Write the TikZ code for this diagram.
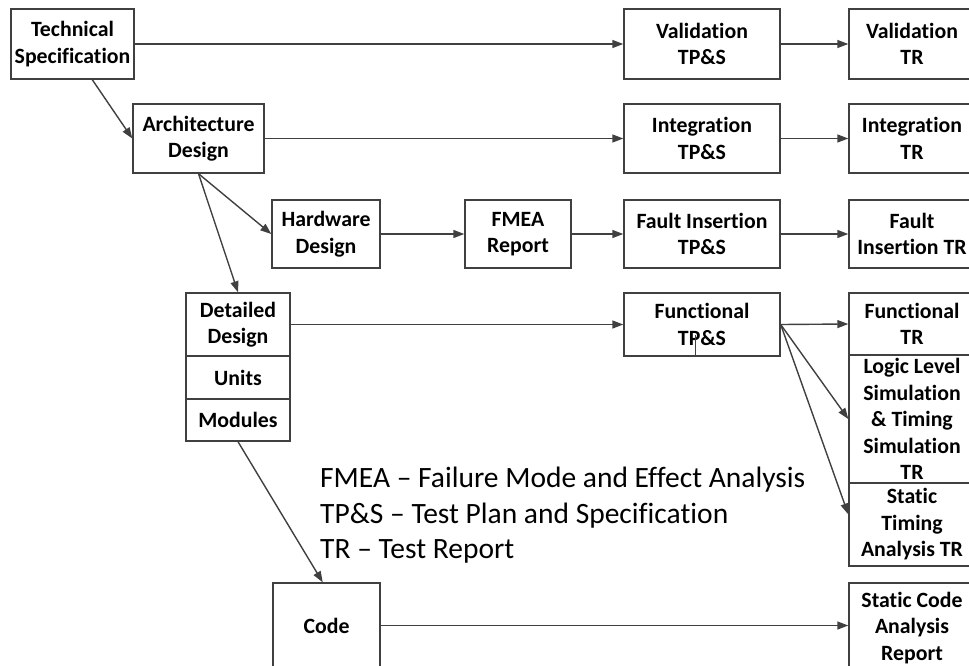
\documentclass[tikz,border=0pt]{standalone}
\usepackage{fontspec}
\setmainfont{Carlito}[Ligatures=NoCommon]
\usetikzlibrary{arrows.meta}
\definecolor{ln}{HTML}{404040}
\tikzset{
  box/.style={draw=ln, line width=1.4pt, rectangle, inner sep=0pt, align=center,
    font=\bfseries\fontsize{21.8}{26.5}\selectfont, text=black},
  arr/.style={draw=ln, line width=1.4pt, -{Triangle[length=11pt,width=8pt]}},
  legend/.style={anchor=base west, inner sep=0pt, font=\fontsize{29.5}{35.5}\selectfont, text=black}
}
\begin{document}
\begin{tikzpicture}[x=1pt,y=-1pt]
\useasboundingbox (0,0) rectangle (969,665);
\clip (0,0) rectangle (969,665);
% boxes
\node[box, minimum width=123pt, minimum height=70pt] (ts) at (72.5,44) {Technical\\Specification};
\node[box, minimum width=131pt, minimum height=69pt] (ad) at (198.5,138.5) {Architecture\\Design};
\node[box, minimum width=156pt, minimum height=70pt] (vtps) at (702,44) {Validation\\TP\&S};
\node[box, minimum width=126pt, minimum height=70pt] (vtr) at (912,44) {Validation\\TR};
\node[box, minimum width=156pt, minimum height=69pt] (itps) at (702,138.5) {Integration\\TP\&S};
\node[box, minimum width=126pt, minimum height=69pt] (itr) at (912,138.5) {Integration\\TR};
\node[box, minimum width=108pt, minimum height=68pt] (hd) at (326,234) {Hardware\\Design};
\node[box, minimum width=106pt, minimum height=68pt] (fmea) at (518,234) {FMEA\\Report};
\node[box, minimum width=156pt, minimum height=68pt] (ftps) at (702,234) {Fault Insertion\\TP\&S};
\node[box, minimum width=126pt, minimum height=68pt] (ftr) at (912,234) {Fault\\Insertion TR};
\node[box, minimum width=104pt, minimum height=63pt] (dd) at (238,324.5) {Detailed\\Design};
\node[box, minimum width=104pt, minimum height=43pt] (units) at (238,377.5) {Units};
\node[box, minimum width=104pt, minimum height=42pt] (modules) at (238,420) {Modules};
\node[box, minimum width=156pt, minimum height=63pt] (fntps) at (702,324.5) {Functional\\TP\&S};
\node[box, minimum width=126pt, minimum height=62pt] (fntr) at (912,324) {Functional\\TR};
\node[box, minimum width=126pt, minimum height=128pt] (logic) at (912,419) {Logic Level\\Simulation\\\& Timing\\Simulation\\TR};
\node[box, minimum width=126pt, minimum height=83pt] (sta) at (912,524.5) {Static\\Timing\\Analysis TR};
\node[box, minimum width=107pt, minimum height=85pt] (code) at (326.5,625.5) {Code};
\node[box, minimum width=126pt, minimum height=90pt] (scar) at (912,628) {Static Code\\Analysis\\Report};
% stray mark inside Functional TP&S
\draw[ln, line width=1pt] (695,335) -- (695,356);
% legend
\node[legend] (l1) at (320,487.5) {FMEA – Failure Mode and Effect Analysis};
\node[legend] (l2) at (320,523) {TP\&S – Test Plan and Specification};
\node[legend] (l3) at (320,558.5) {TR – Test Report};
% connectors
\draw[arr] (ts) -- (vtps);
\draw[arr] (vtps) -- (vtr);
\draw[arr] (ad) -- (itps);
\draw[arr] (itps) -- (itr);
\draw[arr] (ts.-61) -- (ad.west);
\draw[arr] (ad.south) -- (hd.west);
\draw[arr] (ad.south) -- (dd.north);
\draw[arr] (hd) -- (fmea);
\draw[arr] (fmea) -- (ftps);
\draw[arr] (ftps) -- (ftr);
\draw[arr] (dd) -- (fntps);
\draw[arr] (fntps.east) -- (fntr.west);
\draw[arr] (fntps.east) -- (logic.west);
\draw[arr] (fntps.east) -- (sta.171);
\draw[arr] (modules.south) -- (code.95);
\draw[arr] (code.east) -- (code.east -| scar.west);
\end{tikzpicture}
\end{document}
